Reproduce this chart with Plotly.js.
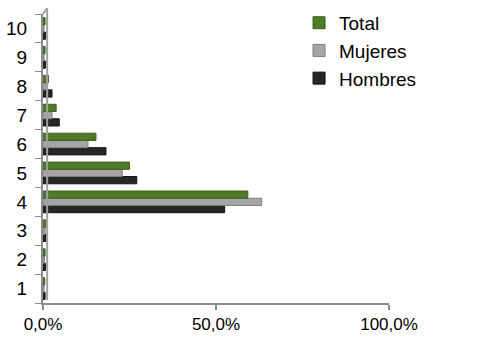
<!DOCTYPE html>
<html>
<head>
<meta charset="utf-8">
<script src="https://cdn.plot.ly/plotly-3.0.1.min.js"></script>
<style>html,body{margin:0;padding:0;background:#fff;}#chart{width:486px;height:343px;}</style>
</head>
<body>
<div id="chart"></div>
<script>
const categories = ["1","2","3","4","5","6","7","8","9","10"];
const total   = [0.5, 0.6, 0.8, 59.2, 25.0, 15.3, 3.8, 1.6, 0.6, 0.6];
const mujeres = [0.3, 0.4, 0.6, 63.2, 22.9, 13.0, 2.6, 1.0, 0.3, 0.3];
const hombres = [0.6, 0.7, 0.9, 52.5, 27.1, 18.2, 4.7, 2.6, 0.7, 0.7];
const xTicks = [0, 50, 100];

const mk = (name, vals, color, line) => ({
  type: 'bar', orientation: 'h', name: name, x: vals, y: categories,
  marker: {color: color, line: {color: line, width: 1}}, hoverinfo: 'x+name'
});

const data = [
  mk('Hombres', hombres, '#262626', '#111111'),
  mk('Mujeres', mujeres, '#a6a6a6', '#7f7f7f'),
  mk('Total', total, '#4f7a28', '#3b5e1d')
];

const layout = {
  width: 486, height: 343,
  margin: {l: 43, r: 97, t: 14, b: 40, pad: 0, autoexpand: false},
  paper_bgcolor: '#ffffff', plot_bgcolor: '#ffffff',
  font: {family: '"Liberation Sans", Arial, sans-serif', size: 17, color: '#000'},
  separators: ',.',
  barmode: 'group', bargap: 0.25, bargroupgap: 0,
  showlegend: true,
  legend: {x: 0.74, xanchor: 'left', y: 1.035, yanchor: 'top', traceorder: 'reversed',
           font: {size: 19, color: '#000'}, bgcolor: 'rgba(0,0,0,0)', tracegroupgap: 0},
  xaxis: {range: [0, 100], tickvals: xTicks, ticktext: xTicks.map(v => v.toFixed(1).replace('.', ',') + '%'),
          showgrid: false, zeroline: false, showline: true, linecolor: '#8c8c8c', linewidth: 2,
          ticks: 'outside', ticklen: 5, tickcolor: '#8c8c8c', tickwidth: 2, fixedrange: true,
          tickfont: {size: 17}},
  yaxis: {type: 'category', categoryarray: categories, tickson: 'boundaries', showgrid: false,
          zeroline: false, showline: true, linecolor: '#8c8c8c', linewidth: 2,
          ticks: 'outside', ticklen: 6, tickcolor: '#8c8c8c', tickwidth: 1, fixedrange: true,
          tickfont: {size: 19}, ticklabelstandoff: 10},
  shapes: [
    {type: 'line', xref: 'paper', yref: 'paper', x0: 0.012, x1: 0.012, y0: 0.01, y1: 1.02,
     line: {color: '#a0a0a0', width: 2}},
    {type: 'line', xref: 'paper', yref: 'paper', x0: 0.0, x1: 0.012, y0: 1.0, y1: 1.02,
     line: {color: '#a0a0a0', width: 2}}
  ]
};

Plotly.newPlot('chart', data, layout, {displayModeBar: false, staticPlot: true});
</script>
</body>
</html>
